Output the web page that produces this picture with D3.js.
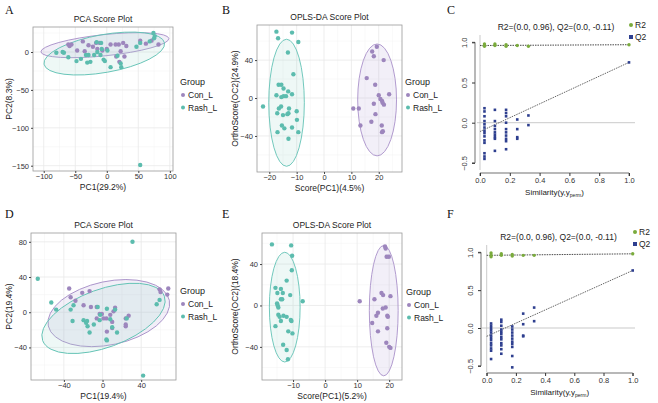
<!DOCTYPE html>
<html><head><meta charset="utf-8">
<script src="https://cdn.jsdelivr.net/npm/d3@7"></script>
<style>body{margin:0;background:#fff}svg{font-family:Arial,"Liberation Sans",sans-serif}</style>
</head><body><svg id="c" width="658" height="403"></svg>
<script>
// ---------- DATA ----------
const groups = ["Con_L","Rash_L"];
// Panel A PCA (PC1, PC2)
const aCon = [[-61,10],[-59,8],[-56,10],[-38,14],[-47,2],[-29,9],[-22,7],[-17,12],[-11,12],[-7,2],[6,10],[14,10],[19,10],[26,12],[31,8],[22,1],[15,-6],[20,-13],[28,-6],[53,15],[62,11],[71,15],[82,10],[-15,4],[0,4],[-35,1]];
const aRash = [[-80,-1],[-70,0],[-68,-1],[-61,-7],[-48,-12],[-31,-14],[-26,-13],[-29,-4],[-20,-4],[-16,13],[-9,12],[-15,0],[-10,-4],[-5,-10],[-3,-12],[1,2],[6,-20],[17,-5],[23,-20],[22,-15],[47,7],[53,12],[68,14],[74,25],[76,21],[75,18],[53,-149],[-8,4],[-33,-4],[-41,-9]];
// Panel B OPLS-DA
const bCon = [[19.3,54],[17.6,49],[18.2,44],[21.8,40],[15.6,21],[18.7,14],[20,3],[20.6,-1],[23.8,4],[21.2,-3],[21.4,-5],[21.9,-7],[18.2,-6],[10.7,-11],[12.7,-11],[18.8,-17],[17.3,-25],[13.3,-29],[21.1,-29],[21.5,-35],[21.2,-36]];
const bRash = [[-17.4,70],[-11.7,69],[-16.8,63],[-9.4,59],[-13.2,48],[-11.2,25],[-16.6,14],[-15.6,14],[-14.8,10],[-13.1,7],[-17.4,3],[-14.8,2],[-13.9,2],[-11.7,4],[-22.3,-9],[-15.7,-9],[-16.5,-11],[-12.8,-11],[-17.1,-16],[-15,-18],[-13.4,-17],[-13,-16],[-10,-14],[-9.9,-23],[-15.4,-29],[-11.7,-31],[-14.5,-32],[-17,-36],[-9.4,-36],[-13,-43],[-15.6,1]];
// Panel D PCA
const dCon = [[-34.5,27],[-21,22],[-13.4,24],[-33,17],[-28,13],[-19.6,8],[-12,6],[-6,6],[-3,-2],[-0.7,-2],[1,-7],[4,-7],[8,-3],[11.4,1],[13,5],[27,-4],[24,-7],[24,-14],[24,-16],[10,-11],[10,-18],[59,26],[60,23],[68,27],[67,20],[4.5,-22],[-6,-7]];
const dRash = [[-67,38],[31,80],[42,-72],[-53,11],[-48,3],[-33,3],[-30,8],[-31,-10],[-19.6,-9],[-17,-12],[-15.5,-16],[-13.4,-23],[-16,-10],[-9,-14],[-3,-9],[4.5,4],[8,-8],[10,-17],[15,-23],[4,-31],[4.5,-32],[13,3],[25,-7],[56,9],[59,14],[-2.4,-3],[-5,6]];
// Panel E OPLS-DA
const eCon = [[10.8,4],[18.7,57],[18.9,55],[19.2,47],[19.9,47],[17.6,12],[18.1,10],[15.4,6],[20.4,9],[18.9,-2],[18,-3],[19.4,-10],[19.6,-11],[16.5,-7],[16,-10],[14.7,-17],[16.5,-25],[19.4,-22],[19.1,-36],[20,-40],[20.4,-41]];
const eRash = [[-16.6,59],[-10.6,58],[-10.3,48],[-10.4,34],[-12,24],[-15.5,17],[-13.8,16],[-14.9,12],[-13.2,12],[-10.9,10],[-13.4,6],[-13.8,6],[-15,2],[-14.8,0],[-7,4],[-14.6,-9],[-14.2,-11],[-13.8,-15],[-13,-10],[-12,-11],[-10.7,-14],[-10.5,-15],[-15.5,-20],[-11.5,-25],[-10.2,-27],[-13.1,-38],[-12,-43],[-11.6,-52],[-14.6,-2]];
// Confidence ellipses: [cx, cy, rx, ry, angleDeg]
const aEll = {Con_L:[-3,9,102,14,-6], Rash_L:[-4,-2,97,25,-10]};
const bEll = {Con_L:[19.4,-2,7.1,59,0], Rash_L:[-13.7,-5,6.5,67,0]};
const dEll = {Con_L:[6.5,-1,64,36,-12], Rash_L:[1,-7,67,33,-20]};
const eEll = {Con_L:[18.3,-5,4.5,63,0], Rash_L:[-12.6,-1.6,4.8,53,0]};
// Permutation tests: [similarity, value]
const cR2 = [[0.03,0.98],[0.03,0.96],[0.03,0.95],[0.1,0.98],[0.1,0.96],[0.175,0.97],[0.175,0.95],[0.25,0.96],[0.325,0.95],[1.0,0.97]];
const cQ2 = [[0.03,0.18],[0.03,0.14],[0.03,0.08],[0.03,0.02],[0.03,-0.02],[0.03,-0.06],[0.03,-0.1],[0.03,-0.13],[0.03,-0.17],[0.03,-0.22],[0.03,-0.25],[0.03,-0.38],[0.03,-0.42],[0.03,-0.45],
 [0.1,0.16],[0.1,0.02],[0.1,-0.04],[0.1,-0.08],[0.1,-0.12],[0.1,-0.15],[0.1,-0.18],[0.1,-0.2],[0.1,-0.35],
 [0.175,0.16],[0.175,0.12],[0.175,0.08],[0.175,0.0],[0.175,-0.08],[0.175,-0.12],[0.175,-0.16],[0.175,-0.2],[0.175,-0.23],[0.175,-0.33],
 [0.25,0.04],[0.25,-0.08],[0.25,-0.18],[0.25,-0.2],[0.325,0.09],[0.325,-0.03],[1.0,0.75]];
const cFit = {R2:[0.96,0.97], Q2:[-0.11,0.75]};
const fR2 = [[0.03,0.99],[0.03,0.96],[0.03,0.94],[0.1,0.98],[0.1,0.96],[0.175,0.97],[0.175,0.95],[0.25,0.96],[0.325,0.96],[1.0,0.98]];
const fQ2 = [[0.03,0.06],[0.03,0.03],[0.03,0.0],[0.03,-0.03],[0.03,-0.06],[0.03,-0.1],[0.03,-0.13],[0.03,-0.16],[0.03,-0.2],[0.03,-0.23],[0.03,-0.27],[0.03,-0.3],[0.03,-0.41],
 [0.1,0.11],[0.1,0.08],[0.1,0.03],[0.1,-0.02],[0.1,-0.05],[0.1,-0.08],[0.1,-0.12],[0.1,-0.15],[0.1,-0.2],[0.1,-0.23],[0.1,-0.28],[0.1,-0.34],
 [0.175,0.02],[0.175,-0.02],[0.175,-0.06],[0.175,-0.1],[0.175,-0.14],[0.175,-0.18],[0.175,-0.21],[0.175,-0.25],[0.175,-0.37],[0.175,-0.52],
 [0.25,0.19],[0.25,0.05],[0.25,-0.1],[0.25,-0.11],[0.325,0.27],[0.325,0.09],[1.0,0.76]];
const fFit = {R2:[0.96,0.98], Q2:[-0.11,0.76]};
const permTicksX = [0,0.2,0.4,0.6,0.8,1.0];
const permTicksY = [-0.5,0,0.5,1.0];

// ---------- DRAW ----------
const svg = d3.select("#c");
const col = {Con_L:"#9d86bd", Rash_L:"#5cbcae"};
const ellStroke = {Con_L:"#a991c9", Rash_L:"#63c3b5"};
const ellFill = {Con_L:"rgba(190,175,220,0.2)", Rash_L:"rgba(160,215,205,0.18)"};

function scorePlot(o){
  const x = d3.scaleLinear().domain(o.xd).range([o.l,o.r]);
  const y = d3.scaleLinear().domain(o.yd).range([o.b,o.t]);
  const g = svg.append("g");
  g.append("rect").attr("x",o.l).attr("y",o.t).attr("width",o.r-o.l).attr("height",o.b-o.t).attr("fill","#fff");
  const mx = o.xt.slice(0,-1).map((v,i)=>(v+o.xt[i+1])/2), my=o.yt.slice(0,-1).map((v,i)=>(v+o.yt[i+1])/2);
  const step=(a)=>a[1]-a[0];
  mx.push(o.xt[0]-step(o.xt)/2, o.xt[o.xt.length-1]+step(o.xt)/2);
  my.push(o.yt[0]-step(o.yt)/2, o.yt[o.yt.length-1]+step(o.yt)/2);
  g.selectAll(null).data(mx.filter(v=>v>o.xd[0]&&v<o.xd[1])).join("line").attr("x1",d=>x(d)).attr("x2",d=>x(d)).attr("y1",o.t).attr("y2",o.b).attr("stroke","#f3f3f3").attr("stroke-width",0.5);
  g.selectAll(null).data(my.filter(v=>v>o.yd[0]&&v<o.yd[1])).join("line").attr("y1",d=>y(d)).attr("y2",d=>y(d)).attr("x1",o.l).attr("x2",o.r).attr("stroke","#f3f3f3").attr("stroke-width",0.5);
  g.selectAll(null).data(o.xt).join("line").attr("x1",d=>x(d)).attr("x2",d=>x(d)).attr("y1",o.t).attr("y2",o.b).attr("stroke","#e8e8e8").attr("stroke-width",0.8);
  g.selectAll(null).data(o.yt).join("line").attr("y1",d=>y(d)).attr("y2",d=>y(d)).attr("x1",o.l).attr("x2",o.r).attr("stroke","#e8e8e8").attr("stroke-width",0.8);
  groups.forEach(k=>{
    const [cx,cy,rx,ry,ang]=o.ell[k];
    g.append("ellipse").attr("cx",x(cx)).attr("cy",y(cy))
      .attr("rx",Math.abs(x(cx+rx)-x(cx))).attr("ry",Math.abs(y(cy+ry)-y(cy)))
      .attr("transform",`rotate(${ang},${x(cx)},${y(cy)})`)
      .attr("fill",ellFill[k]).attr("stroke",ellStroke[k]).attr("stroke-width",0.9);
  });
  [["Con_L",o.con],["Rash_L",o.rash]].forEach(([k,arr])=>{
    g.selectAll(null).data(arr).join("circle").attr("cx",d=>x(d[0])).attr("cy",d=>y(d[1])).attr("r",2.2).attr("fill",col[k]);
  });
  g.append("rect").attr("x",o.l).attr("y",o.t).attr("width",o.r-o.l).attr("height",o.b-o.t).attr("fill","none").attr("stroke","#999").attr("stroke-width",0.8);
  const ax = g.append("g").attr("transform",`translate(0,${o.b})`).call(d3.axisBottom(x).tickValues(o.xt).tickSize(2).tickPadding(1));
  const ay = g.append("g").attr("transform",`translate(${o.l},0)`).call(d3.axisLeft(y).tickValues(o.yt).tickSize(2).tickPadding(2));
  [ax,ay].forEach(a=>{a.select(".domain").remove();a.selectAll("line").attr("stroke","#444");a.selectAll("text").attr("font-size",7.5).attr("fill","#333").attr("font-family","Arial,'Liberation Sans',sans-serif");});
  g.append("text").attr("x",(o.l+o.r)/2).attr("y",o.t-5).attr("text-anchor","middle").attr("font-size",8.5).attr("fill","#222").text(o.title);
  g.append("text").attr("x",(o.l+o.r)/2).attr("y",o.b+19).attr("text-anchor","middle").attr("font-size",8.5).attr("fill","#222").text(o.xl);
  g.append("text").attr("transform",`translate(${o.yl},${(o.t+o.b)/2}) rotate(-90)`).attr("text-anchor","middle").attr("font-size",8.5).attr("fill","#222").text(o.ylab);
  g.append("text").attr("x",o.lx).attr("y",o.ly).attr("font-size",9).attr("fill","#222").text("Group");
  groups.forEach((k,i)=>{
    g.append("circle").attr("cx",o.lx+3).attr("cy",o.ly+10+i*12.5).attr("r",2).attr("fill",col[k]);
    g.append("text").attr("x",o.lx+8).attr("y",o.ly+13+i*12.5).attr("font-size",8.5).attr("fill","#222").text(k);
  });
}

function permPlot(o){
  const x = d3.scaleLinear().domain([0,1]).range(o.xr);
  const y = d3.scaleLinear().domain([0,1]).range(o.yr);
  const g = svg.append("g");
  g.append("line").attr("x1",x(0)).attr("x2",x(0)).attr("y1",o.t).attr("y2",o.b).attr("stroke","#bbb").attr("stroke-width",0.8);
  g.append("line").attr("x1",o.l).attr("x2",o.r).attr("y1",y(0)).attr("y2",y(0)).attr("stroke","#bbb").attr("stroke-width",0.8);
  const fitLine=(f,c)=>g.append("line").attr("x1",x(0)).attr("y1",y(f[0])).attr("x2",x(1)).attr("y2",y(f[1])).attr("stroke",c).attr("stroke-width",0.9).attr("stroke-dasharray","1.5,1");
  fitLine(o.fit.R2,"#333"); fitLine(o.fit.Q2,"#555");
  g.selectAll(null).data(o.q2).join("rect").attr("x",d=>x(d[0])-1.3).attr("y",d=>y(d[1])-1.3).attr("width",2.6).attr("height",2.6).attr("fill","#2e3f8f");
  g.selectAll(null).data(o.r2).join("circle").attr("cx",d=>x(d[0])).attr("cy",d=>y(d[1])).attr("r",1.7).attr("fill","#7aab3c");
  const ax=g.append("g").attr("transform",`translate(0,${o.ax})`).call(d3.axisBottom(x).tickValues(permTicksX).tickFormat(d3.format(".1f")).tickSize(3).tickPadding(2));
  const ay=g.append("g").attr("transform",`translate(${o.ay},0)`).call(d3.axisLeft(y).tickValues(permTicksY).tickFormat(d3.format(".1f")).tickSize(3).tickPadding(3));
  [ax,ay].forEach(a=>{a.select(".domain").attr("stroke","#333").attr("stroke-width",0.7);a.selectAll("line").attr("stroke","#333");a.selectAll("text").attr("font-size",7.5).attr("fill","#333").attr("font-family","Arial,'Liberation Sans',sans-serif");});
  ay.selectAll(".tick text").attr("text-anchor","middle").attr("transform",function(){const t=d3.select(this);return `translate(-2,0) rotate(-90, ${t.attr("x")}, 0)`}).attr("dy","0").attr("x",-6);
  ax.select(".domain").attr("d",`M${x(0)},3V0H${x(1)}V3`);
  ay.select(".domain").attr("d",`M-3,${y(-0.5)}H0V${y(1)}H-3`);
  g.append("text").attr("x",(o.l+o.r)/2).attr("y",o.t-5).attr("text-anchor","middle").attr("font-size",8.5).attr("fill","#222").text("R2=(0.0, 0.96), Q2=(0.0, -0.11)");
  const xl=g.append("text").attr("x",(x(0)+x(1))/2).attr("y",o.ax+22).attr("text-anchor","middle").attr("font-size",8).attr("fill","#222");
  xl.append("tspan").text("Similarity(y,y");
  xl.append("tspan").attr("font-size",5).attr("dy",2).text("perm");
  xl.append("tspan").attr("dy",-2).text(")");
  g.append("circle").attr("cx",o.lgx).attr("cy",o.lgy).attr("r",2).attr("fill","#7aab3c");
  g.append("text").attr("x",o.lgx+4).attr("y",o.lgy+3).attr("font-size",8.5).attr("fill","#222").text("R2");
  g.append("rect").attr("x",o.lgx-2).attr("y",o.lgy+10).attr("width",4).attr("height",4).attr("fill","#2e3f8f");
  g.append("text").attr("x",o.lgx+4).attr("y",o.lgy+15).attr("font-size",8.5).attr("fill","#222").text("Q2");
}

scorePlot({l:33,r:173,t:27,b:171,xd:[-117,105],yd:[-157,33],xt:[-100,-50,0,50,100],yt:[-150,-100,-50,0],ell:aEll,con:aCon,rash:aRash,
  title:"PCA Score Plot",xl:"PC1(29.2%)",ylab:"PC2(8.3%)",yl:12,lx:180,ly:85});
scorePlot({l:257,r:402,t:25,b:172,xd:[-24.5,28.5],yd:[-78,77],xt:[-20,-10,0,10,20],yt:[-40,0,40],ell:bEll,con:bCon,rash:bRash,
  title:"OPLS-DA Score Plot",xl:"Score(PC1)(4.5%)",ylab:"OrthoScore(OC2)(24.9%)",yl:238,lx:405,ly:85});
scorePlot({l:31,r:176,t:233,b:380,xd:[-74,76],yd:[-77,90],xt:[-40,0,40],yt:[-40,0,40,80],ell:dEll,con:dCon,rash:dRash,
  title:"PCA Score Plot",xl:"PC1(19.4%)",ylab:"PC2(19.4%)",yl:12,lx:180,ly:294});
scorePlot({l:262,r:402,t:233,b:380,xd:[-19.7,24],yd:[-72,70],xt:[-10,0,10,20],yt:[-40,0,40],ell:eEll,con:eCon,rash:eRash,
  title:"OPLS-DA Score Plot",xl:"Score(PC1)(5.2%)",ylab:"OrthoScore(OC2)(18.4%)",yl:238,lx:406,ly:295});
permPlot({xr:[480,629],yr:[122.7,42.3],l:477,r:635,t:35,b:170,ax:173,ay:475,q2:cQ2,r2:cR2,fit:cFit,lgx:631,lgy:25});
permPlot({xr:[486.7,632.7],yr:[328,252.3],l:482,r:635,t:245,b:372,ax:373,ay:481,q2:fQ2,r2:fR2,fit:fFit,lgx:635,lgy:232});

[["A",5,14],["B",222,14],["C",447,14],["D",5,218],["E",222,218],["F",447,218]].forEach(([t,x,y])=>
  svg.append("text").attr("x",x).attr("y",y).attr("font-family","'Liberation Serif','DejaVu Serif',serif").attr("font-size",12).attr("fill","#111").text(t));
</script></body></html>
